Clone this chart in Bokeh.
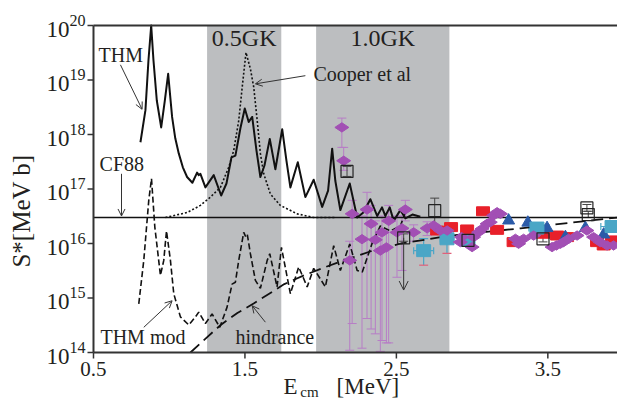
import numpy as np
from bokeh.plotting import figure
from bokeh.models import (Range1d, FixedTicker, BoxAnnotation, Label,
                          Arrow, OpenHead, Whisker, TeeHead, ColumnDataSource)
from bokeh.embed import file_html
from bokeh.resources import INLINE

# ---------------- data ----------------
# THM (solid)
thm_x = [0.810, 0.843, 0.863, 0.881, 0.896, 0.918, 0.947, 0.971, 0.993, 1.019, 1.040, 1.063, 1.090,
         1.118, 1.153, 1.184, 1.195, 1.206, 1.239, 1.294, 1.343, 1.378, 1.411, 1.437, 1.470, 1.499,
         1.525, 1.548, 1.576, 1.602, 1.629, 1.664, 1.701, 1.746, 1.774, 1.800, 1.849, 1.899, 1.954,
         2.010, 2.049, 2.076, 2.097, 2.130, 2.192, 2.241, 2.282, 2.328, 2.373, 2.405, 2.427, 2.456,
         2.482, 2.526, 2.559, 2.606, 2.658]
thm_s = [7.2e17, 2.8e18, 2.3e19, 1.0e20, 2.3e19, 4.2e18, 1.35e18, 4.2e18, 1.3e19, 2.1e18, 8.5e17,
         4.5e17, 2.5e17, 1.66e17, 1.3e17, 2.0e17, 1.8e17, 1.9e17, 1.07e17, 1.8e17, 7.6e16, 1.26e17,
         3.8e17, 4.1e17, 1.3e18, 3.0e18, 1.7e18, 2.1e18, 5.1e17, 1.66e17, 2.7e17, 8.3e17, 2.3e17,
         1.25e18, 3.3e17, 1.07e17, 3.1e17, 7.1e16, 1.48e17, 4.7e16, 9.3e16, 5.5e17, 1.4e17, 4.1e16,
         1.26e17, 3.0e16, 3.7e16, 6.5e16, 3.2e16, 4.6e16, 3.2e16, 4.6e16, 2.6e16, 4.1e16, 2.9e16,
         3.4e16, 3.1e16]

# THM mod (dashed)
mod_x = [0.799, 0.832, 0.865, 0.883, 0.905, 0.942, 0.964, 0.982, 1.008, 1.030, 1.074, 1.129, 1.173,
         1.195, 1.239, 1.283, 1.334, 1.382, 1.415, 1.437, 1.459, 1.492, 1.504, 1.515, 1.536, 1.569,
         1.602, 1.647, 1.664, 1.712, 1.741, 1.800, 1.855, 1.911, 1.954, 2.031, 2.086, 2.130, 2.192,
         2.241, 2.275, 2.342, 2.394, 2.460, 2.526, 2.559]
mod_s = [7.8e14, 4.9e15, 6.2e16, 1.55e17, 2.0e16, 2.6e15, 4.9e15, 1.7e16, 4.9e15, 1.2e15, 4.5e14,
         3.2e14, 4.5e14, 5.5e14, 3.4e14, 5.1e14, 2.9e14, 6.8e14, 1.8e15, 1.95e15, 4.9e15, 1.6e16,
         1.35e16, 1.5e16, 6.5e15, 2.1e15, 1.5e15, 4.9e15, 6.5e15, 1.6e15, 8.5e15, 1.2e15, 3.7e15,
         1.6e15, 3.5e15, 1.6e15, 9.1e15, 3.2e15, 9.8e15, 3.2e15, 3.0e15, 1.05e16, 2.1e16, 1.7e16,
         2.1e16, 3.7e16]

# Cooper et al (dotted)
coop_x = [0.975, 1.118, 1.206, 1.272, 1.338, 1.393, 1.426, 1.459, 1.482, 1.507, 1.536, 1.558, 1.581,
          1.602, 1.624, 1.668, 1.734, 1.845, 1.954, 2.097]
coop_s = [3.0e16, 3.7e16, 5.0e16, 7.1e16, 1.07e17, 2.5e17, 5.1e17, 1.8e18, 7.4e18, 3.2e19, 1.6e19,
          7.4e18, 1.8e18, 4.5e17, 1.9e17, 8.1e16, 5.0e16, 3.5e16, 3.0e16, 3.0e16]

# hindrance (long dashes)
hin_x = [1.14, 1.24, 1.34, 1.45, 1.56, 1.66, 1.76, 1.89, 2.02, 2.18, 2.35, 2.53, 2.86, 3.32, 3.96]
hin_s = [1.0e14, 1.8e14, 3.2e14, 5.3e14, 8.0e14, 1.2e15, 1.8e15, 2.6e15, 3.6e15, 5.2e15, 7.5e15,
         1.0e16, 1.4e16, 1.9e16, 3.0e16]

CF88 = 3.0e16

# purple diamonds with large error bars (1.0GK window)
pd_x = [2.140, 2.152, 2.208, 2.192, 2.273, 2.306, 2.333, 2.361, 2.394, 2.405, 2.434, 2.449, 2.504,
        2.537, 2.559, 2.614, 2.703]
pd_s = [1.35e18, 3.3e17, 3.5e16, 4.9e15, 1.2e16, 4.2e16, 2.3e16, 1.17e16, 7.4e15, 1.6e16, 8.5e15,
        2.6e16, 1.6e16, 1.9e16, 4.2e16, 1.6e16, 1.9e16]
pd_hi = [2.0e18, 5.8e17, 6.2e16, 1.1e16, 3.2e16, 8.7e16, 5.0e16, 2.6e16, 1.4e16, 3.2e16, 1.6e16,
         5.0e16, 3.2e16, 3.2e16, 6.2e16, 2.2e16, 2.5e16]
pd_lo = [5.8e17, 2.2e17, 3.4e14, 1.1e14, 1.2e14, 4.2e14, 2.7e14, 2.2e14, 1.05e14, 1.66e14, 1.5e14,
         1.5e14, 2.4e15, 3.2e15, 2.6e16, 1.1e16, 1.4e16]

# purple diamonds (higher energies)
pq_x = [2.746, 2.790, 2.835, 2.922, 2.93, 3.000, 3.010, 3.043, 3.066, 3.099, 3.120, 3.142, 3.165,
        3.187, 3.286, 3.307, 3.340, 3.406, 3.528, 3.556, 3.583, 3.604, 3.637, 3.693, 3.758, 3.802,
        3.846, 3.891, 3.934]
pq_s = [2.14e16, 1.73e16, 1.73e16, 1.06e16, 1.31e16, 8.6e15, 1.31e16, 1.61e16, 1.86e16, 2.30e16,
        2.46e16, 3.27e16, 3.75e16, 3.5e16, 1.22e16, 9.9e15, 1.22e16, 1.40e16, 8.6e15, 9.2e15, 9.9e15,
        1.06e16, 1.22e16, 1.40e16, 1.73e16, 1.31e16, 1.06e16, 9.2e15, 9.2e15]

# red squares
rs_x = [2.769, 2.861, 2.967, 3.072, 3.165, 3.274, 3.472, 3.561, 3.627, 3.825, 3.869, 3.924]
rs_s = [1.73e16, 2.0e16, 1.81e16, 3.9e16, 1.78e16, 1.06e16, 1.51e16, 1.40e16, 1.31e16, 1.06e16,
        9.2e15, 1.14e16]

# blue triangles
bt_x = [3.241, 3.368, 3.495, 3.616, 3.748, 3.869]
bt_s = [2.64e16, 2.41e16, 1.92e16, 1.31e16, 1.92e16, 1.46e16]

# cyan squares
cy_x = [2.680, 2.834, 2.973, 3.428, 3.924]
cy_s = [7.4e15, 1.22e16, 1.14e16, 1.92e16, 2.05e16]
cy_hi = [1.23e16, 1.6e16, 1.4e16, 2.3e16, 2.4e16]
cy_lo = [4.0e15, 6.6e15, 9.5e15, 1.6e16, 1.75e16]
cy_xlo = [2.614, 2.790, 2.940, 3.375, 3.850]
cy_xhi = [2.746, 2.880, 3.010, 3.480, 3.960]

# open squares
os_x = [2.174, 2.548, 2.753, 2.973, 3.468, 3.758, 3.767]
os_s = [2.1e17, 1.27e16, 4.0e16, 1.14e16, 1.22e16, 4.5e16, 3.4e16]
os_hi = [2.6e17, 1.5e16, 6.8e16, 1.3e16, 1.4e16, 5.2e16, 3.9e16]
os_lo = [1.7e17, 1.1e16, 2.0e16, 1.0e16, 1.07e16, 3.9e16, 3.0e16]
limit_x = 2.548
limit_from = 1.27e16
limit_to = 1.4e15

y_ticks = [1e14, 1e15, 1e16, 1e17, 1e18, 1e19, 1e20]
x_ticks = [0.5, 1.5, 2.5, 3.5]
x_tick_labels = ["0.5", "1.5", "2.5", "3.5"]
bands = [(1.25, 1.74, "0.5GK"), (1.97, 2.85, "1.0GK")]

X_MIN, X_MAX = 0.5, 3.96
Y_MIN, Y_MAX = 1e14, 1e20

# ---------------- layout helpers (pixel geometry of the frame) ----------------
PX_PER_MEV = 151.5
PX_PER_DEC = 54.5
LEFT_PAD = 16       # frame starts this many px left of the y axis line (room for "0.5")
TOP_PAD = 5         # frame starts this many px above the top border line
BOTTOM_EXTRA = 49   # frame continues below the x axis to hold its labels

def py(pix_below_axis):
    """value on the log axis that lies pix px below the 1e14 axis line"""
    return Y_MIN / 10 ** (pix_below_axis / PX_PER_DEC)

def dx(pix):
    return pix / PX_PER_MEV

SERIF = "Liberation Serif"
TXT = "#231f20"
AX = "#333333"

p = figure(width=617, height=401, y_axis_type="log", output_backend="svg", toolbar_location=None,
           x_axis_location=None,
           x_range=Range1d(X_MIN - dx(LEFT_PAD), X_MAX),
           y_range=Range1d(py(BOTTOM_EXTRA), Y_MAX * 10 ** (TOP_PAD / PX_PER_DEC)),
           min_border_left=93 - LEFT_PAD, min_border_right=0, min_border_top=25 - TOP_PAD,
           min_border_bottom=0)
p.outline_line_color = None
p.xgrid.visible = False
p.ygrid.visible = False
p.background_fill_color = "white"
p.border_fill_color = "white"

yax = p.yaxis[0]
yax.ticker = FixedTicker(ticks=y_ticks)
yax.axis_line_color = None
yax.major_tick_line_color = None
yax.major_tick_out = 0
yax.major_tick_in = 0
yax.minor_tick_line_color = None
yax.major_label_text_font = SERIF
yax.major_label_text_color = TXT
yax.major_label_text_font_size = "23px"
yax.major_label_standoff = 8 - LEFT_PAD
yax.axis_label = "S*[MeV b]"
yax.axis_label_text_font = SERIF
yax.axis_label_text_font_size = "25px"
yax.axis_label_text_font_style = "normal"
yax.axis_label_text_color = TXT
yax.axis_label_standoff = 8

# gray temperature windows
for lo, hi, name in bands:
    p.add_layout(BoxAnnotation(left=lo, right=hi, bottom=Y_MIN, top=Y_MAX, fill_color="#bcbec0",
                               fill_alpha=1.0, line_color=None, level="underlay"))
    p.add_layout(Label(x=(lo + hi) / 2, y=5.8e19, text=name, text_font=SERIF, text_font_size="24px",
                       text_align="center", text_baseline="middle", text_color=TXT))

# error bars
PURP = "#a24fb4"
PERR = "#b77dc6"
src_pd = ColumnDataSource(dict(x=pd_x, y=pd_s, hi=pd_hi, lo=pd_lo))
p.add_layout(Whisker(source=src_pd, base="x", upper="hi", lower="lo", dimension="height",
                     line_color=PERR, line_width=1,
                     upper_head=TeeHead(size=9, line_color=PERR, line_width=1),
                     lower_head=TeeHead(size=9, line_color=PERR, line_width=1), level="underlay"))
src_cy = ColumnDataSource(dict(x=cy_x, y=cy_s, hi=cy_hi, lo=cy_lo, xlo=cy_xlo, xhi=cy_xhi))
p.add_layout(Whisker(source=src_cy, base="x", upper="hi", lower="lo", dimension="height",
                     line_color="#4aa6c6", line_width=1.2,
                     upper_head=TeeHead(size=9, line_color="#4aa6c6", line_width=1.2),
                     lower_head=TeeHead(size=9, line_color="#e0607a", line_width=1.2)))
p.add_layout(Whisker(source=src_cy, base="y", upper="xhi", lower="xlo", dimension="width",
                     line_color="#4aa6c6", line_width=1.2,
                     upper_head=TeeHead(size=7, line_color="#4aa6c6", line_width=1.2),
                     lower_head=TeeHead(size=7, line_color="#4aa6c6", line_width=1.2)))
src_os = ColumnDataSource(dict(x=os_x, y=os_s, hi=os_hi, lo=os_lo))
p.add_layout(Whisker(source=src_os, base="x", upper="hi", lower="lo", dimension="height",
                     line_color="#444444", line_width=1,
                     upper_head=TeeHead(size=9, line_color="#444444", line_width=1),
                     lower_head=TeeHead(size=9, line_color="#444444", line_width=1)))

# curves
p.segment(x0=[X_MIN], y0=[CF88], x1=[X_MAX], y1=[CF88], line_color="#111111", line_width=1.6)
p.line(coop_x, coop_s, line_color="#111111", line_width=1.6, line_dash="2 2")
p.line(hin_x, hin_s, line_color="#111111", line_width=1.8, line_dash="12 6")
p.line(mod_x, mod_s, line_color="#111111", line_width=1.6, line_dash="6 3")
p.line(thm_x, thm_s, line_color="#111111", line_width=2, line_join="round")

# data markers
p.scatter(pd_x, pd_s, marker="diamond", size=14, angle=np.pi / 2, fill_color=PURP, line_color=PURP)
p.rect(rs_x, rs_s, width=13, height=9, width_units="screen", height_units="screen",
       fill_color="#e8202a", line_color="#e8202a")
p.scatter(bt_x, bt_s, marker="triangle", size=12, fill_color="#2a5aa8", line_color="#2a5aa8")
p.rect(cy_x, cy_s, width=14, height=12, width_units="screen", height_units="screen",
       fill_color="#4aa6c6", line_color="#4aa6c6")
p.scatter(pq_x, pq_s, marker="diamond", size=14, angle=np.pi / 2, fill_color=PURP, line_color=PURP)
p.scatter(os_x, os_s, marker="square", size=12, fill_color=None, line_color="#222222", line_width=1.2)

# upper limit arrow
p.add_layout(Arrow(end=OpenHead(size=9, line_width=1, line_color=AX), x_start=limit_x,
                   y_start=limit_from, x_end=limit_x, y_end=limit_to, line_width=1, line_color=AX))

# ---- axes drawn in the frame (frame lines, ticks and x tick labels) ----
p.segment(x0=[X_MIN], y0=[Y_MIN], x1=[X_MIN], y1=[Y_MAX], line_color=AX, line_width=2)
p.segment(x0=[X_MIN], y0=[Y_MIN], x1=[X_MAX], y1=[Y_MIN], line_color=AX, line_width=2)
p.segment(x0=[X_MIN], y0=[Y_MAX], x1=[X_MAX], y1=[Y_MAX], line_color=AX, line_width=2)
p.segment(x0=x_ticks, y0=[Y_MIN] * len(x_ticks), x1=x_ticks, y1=[py(6)] * len(x_ticks),
          line_color=AX, line_width=1.5)
p.segment(x0=[X_MIN - dx(6)] * len(y_ticks), y0=y_ticks, x1=[X_MIN] * len(y_ticks), y1=y_ticks,
          line_color=AX, line_width=1.5)
for xt, lt in zip(x_ticks, x_tick_labels):
    p.add_layout(Label(x=xt, y=py(9), text=lt, text_font=SERIF, text_font_size="21px",
                       text_align="center", text_baseline="top", text_color=TXT))

# x-axis title with subscript
p.add_layout(Label(x=1.754, y=py(21), text="E", text_font=SERIF, text_font_size="23px",
                   text_baseline="top", text_color=TXT))
p.add_layout(Label(x=1.866, y=py(31), text="cm", text_font=SERIF, text_font_size="15px",
                   text_baseline="top", text_color=TXT))
p.add_layout(Label(x=2.105, y=py(21), text="[MeV]", text_font=SERIF, text_font_size="23px",
                   text_baseline="top", text_color=TXT))

# annotations
def lab(x, y, t, align="left", size="20px"):
    p.add_layout(Label(x=x, y=y, text=t, text_font=SERIF, text_font_size=size, text_align=align,
                       text_baseline="middle", text_color=TXT))

def arr(x0, y0, x1, y1):
    p.add_layout(Arrow(end=OpenHead(size=7, line_width=1, line_color=AX), x_start=x0,
                       y_start=y0, x_end=x1, y_end=y1, line_width=1, line_color=AX))

lab(0.533, 2.9e19, "THM")
arr(0.678, 1.9e19, 0.821, 2.9e18)
lab(0.540, 2.9e17, "CF88")
arr(0.685, 1.9e17, 0.685, 3.2e16)
lab(1.952, 1.3e19, "Cooper et al")
arr(1.899, 1.2e19, 1.569, 8.5e18)
lab(0.546, 1.95e14, "THM mod")
arr(0.832, 2.9e14, 1.019, 8.9e14)
lab(1.437, 1.9e14, "hindrance")
arr(1.635, 3.6e14, 1.548, 7.2e14)

open("out.html", "w").write(file_html(p, INLINE))
